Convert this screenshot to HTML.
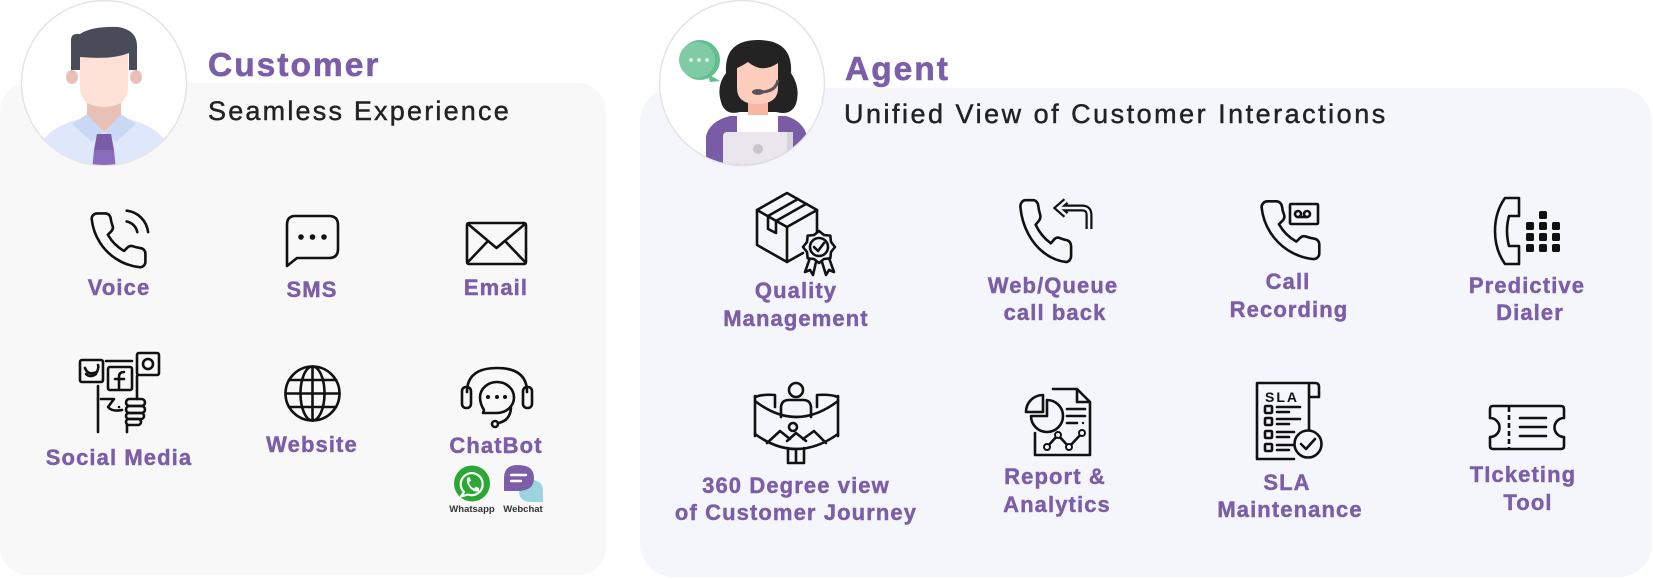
<!DOCTYPE html>
<html><head><meta charset="utf-8"><style>
html,body{margin:0;padding:0;background:#fff;}
svg{display:block;}
text{font-family:"Liberation Sans",Arial,sans-serif;}
.lb{font-size:22px;font-weight:bold;fill:#7b5ea7;stroke:#7b5ea7;stroke-width:0.45px;letter-spacing:1.1px;text-anchor:middle;}
.ic{fill:none;stroke:#111;stroke-width:2.6;stroke-linecap:round;stroke-linejoin:round;}
</style></head><body>
<svg width="1653" height="579" viewBox="0 0 1653 579" xmlns="http://www.w3.org/2000/svg">
<defs>
<clipPath id="cc"><circle cx="104" cy="83" r="82"/></clipPath>
<clipPath id="ca"><circle cx="742" cy="83" r="82"/></clipPath>
</defs>
<!-- panels -->
<rect x="0" y="83" width="606" height="492" rx="28" fill="#f8f8f8"/>
<rect x="640" y="88" width="1012" height="489" rx="33" fill="#f5f6fb"/>

<!-- customer avatar -->
<circle cx="104" cy="83" r="82.5" fill="#fff" stroke="#e4e4e4" stroke-width="1.5"/>
<g clip-path="url(#cc)">
<path d="M40 145 Q52 124 85 118 L104 132 L123 118 Q156 124 168 145 V175 H40 Z" fill="#dfe7fb"/>
<path d="M87 92 H121 V116 L104 132 L87 116 Z" fill="#e8c1b6"/>
<path d="M72 124 L87 114 L104 132 L92 142 Z" fill="#cad7f5"/>
<path d="M136 124 L121 114 L104 132 L116 142 Z" fill="#cad7f5"/>
<path d="M97 134 H111 L114 150 H94 Z" fill="#7a5ca6"/>
<path d="M94 150 H114 L116 170 H92 Z" fill="#8a6cbd"/>
</g>
<ellipse cx="72" cy="77" rx="6" ry="7" fill="#e8c1b6"/>
<ellipse cx="136" cy="77" rx="6" ry="7" fill="#e8c1b6"/>
<path d="M80 56 V86 Q80 107 104 107 Q128 107 128 86 V54 Z" fill="#fde0d6"/>
<path d="M71 70 V40 Q71 33 80 34 Q92 26 118 27 Q137 30 137 46 V70 H129 V53 Q112 60 80 57 V70 Z" fill="#4a4b59"/>

<!-- agent avatar -->
<circle cx="742" cy="83" r="82.5" fill="#fff" stroke="#e4e4e4" stroke-width="1.5"/>
<g clip-path="url(#ca)">
<path d="M706 170 V136 Q710 121 730 116 H786 Q803 121 807 136 V170 Z" fill="#7a5ca6"/>
<path d="M737 116 H778 V134 H737 Z" fill="#fff"/>
<rect x="723" y="132" width="70" height="40" rx="4" fill="#e9e7ed"/>
<rect x="787" y="132" width="6" height="40" fill="#d6d2dc"/>
<circle cx="758" cy="149" r="5" fill="#c9c3cd"/>
</g>
<path d="M721 102 Q716 86 726 73 Q724 40 758 40 Q793 40 791 73 Q801 88 796 104 Q791 116 776 112 H740 Q725 116 721 102 Z" fill="#232323"/>
<path d="M748 98 H768 V115 H748 Z" fill="#f7b7a3"/>
<path d="M737 68 V88 Q737 104 757 104 Q778 104 778 88 V63 Q762 74 748 62 Q742 66 737 68 Z" fill="#fdcdbd"/>
<path d="M778 80 Q776 92 760 92" fill="none" stroke="#59535e" stroke-width="3"/>
<ellipse cx="758" cy="92" rx="6" ry="3" fill="#59535e"/>
<circle cx="700" cy="60" r="20" fill="#5fbf8f"/>
<circle cx="697" cy="60" r="18" fill="#7ecba6"/>
<path d="M708 74 L720 81 L710 82 Z" fill="#5fbf8f"/>
<circle cx="691" cy="60" r="1.8" fill="#fff"/><circle cx="699" cy="60" r="1.8" fill="#fff"/><circle cx="707" cy="60" r="1.8" fill="#fff"/>

<!-- titles -->
<text x="208" y="76" font-size="33.5" font-weight="bold" fill="#7b5ea7" stroke="#7b5ea7" stroke-width="0.6" letter-spacing="2">Customer</text>
<text x="208" y="120" font-size="27" fill="#222" stroke="#222" stroke-width="0.45" letter-spacing="2.2">Seamless Experience</text>
<text x="845" y="80" font-size="33.5" font-weight="bold" fill="#7b5ea7" stroke="#7b5ea7" stroke-width="0.6" letter-spacing="2">Agent</text>
<text x="844" y="123" font-size="27" fill="#222" stroke="#222" stroke-width="0.45" letter-spacing="2.5">Unified View of Customer Interactions</text>

<!-- Voice -->
<g transform="translate(86,208) scale(2.7)">
<path class="ic" vector-effect="non-scaling-stroke" d="M15.05 5A5 5 0 0 1 19 8.95M15.05 1A9 9 0 0 1 23 8.94M22 16.92v3a2 2 0 0 1-2.18 2 19.79 19.79 0 0 1-8.63-3.07 19.5 19.5 0 0 1-6-6 19.79 19.79 0 0 1-3.07-8.67A2 2 0 0 1 4.11 2h3a2 2 0 0 1 2 1.72 12.84 12.84 0 0 0 .7 2.81 2 2 0 0 1-.45 2.11L8.09 9.910a16 16 0 0 0 6 6l1.27-1.27a2 2 0 0 1 2.11-.45 12.84 12.84 0 0 0 2.81.7A2 2 0 0 1 22 16.92z"/>
</g>
<text class="lb" x="119" y="295">Voice</text>

<!-- SMS -->
<path class="ic" stroke-width="3" d="M295 216 H329 Q338 216 338 225 V249 Q338 258 329 258 H297 L287 266 V225 Q287 216 295 216 Z"/>
<circle cx="301" cy="237" r="2.8" fill="#111"/><circle cx="312.5" cy="237" r="2.8" fill="#111"/><circle cx="324" cy="237" r="2.8" fill="#111"/>
<text class="lb" x="312" y="297">SMS</text>

<!-- Email -->
<rect x="467" y="223" width="59" height="41" rx="2" class="ic" stroke-width="3"/>
<path class="ic" stroke-width="2.6" d="M468 224 L496.5 248 L525 224 M468 262 L487 242 M525 262 L506 242"/>
<text class="lb" x="496" y="295">Email</text>

<!-- Social Media -->
<g class="ic" stroke-width="2.2">
<rect x="80" y="360" width="23" height="22" rx="2"/>
<rect x="108" y="367" width="24" height="23" rx="2"/>
<rect x="137" y="353" width="22" height="22" rx="2"/>
<circle cx="148" cy="364" r="5"/>
<path d="M106 361 H132"/>
<path d="M85 368 Q88 376 97 372 Q99 367 98 365 M86 374 Q90 378 96 374"/>
<path d="M124 372 Q119 372 119 377 V388 M115 379 H124"/>
<path d="M98 386 V432 M137 376 V399"/>
<path d="M101 399 H114 L108 407 Q112 412 122 410"/>
<rect x="126" y="399" width="19" height="7" rx="3.5"/>
<rect x="126" y="406" width="19" height="7" rx="3.5"/>
<rect x="126" y="413" width="18" height="6" rx="3"/>
<rect x="126" y="419" width="15" height="6" rx="3"/>
<path d="M127 425 V432"/>
</g>
<circle cx="119" cy="407" r="1.3" fill="#111"/>
<text class="lb" x="119" y="465">Social Media</text>

<!-- Website -->
<g class="ic" stroke-width="3">
<circle cx="312.5" cy="393.5" r="27"/>
<ellipse cx="312.5" cy="393.5" rx="12" ry="27"/>
<path d="M312.5 366.5 V420.5 M285.5 393.5 H339.5 M289 380 H336 M289 407 H336"/>
</g>
<text class="lb" x="312" y="452">Website</text>

<!-- ChatBot -->
<g class="ic" stroke-width="3.2">
<path d="M467 392 Q467 368 497 368 Q527 368 527 392"/>
<rect x="462" y="387" width="9" height="21" rx="4"/>
<rect x="523" y="387" width="9" height="21" rx="4"/>
<path d="M484 410 Q480 404 480 397 A17 15.5 0 1 1 497 413 H483 Z"/>
<path d="M511 408 Q510 421 498 423"/>
<circle cx="495" cy="424" r="3"/>
</g>
<circle cx="488" cy="397" r="2" fill="#111"/><circle cx="497" cy="397" r="2" fill="#111"/><circle cx="505" cy="397" r="2" fill="#111"/>
<text class="lb" x="496" y="453">ChatBot</text>
<!-- whatsapp -->
<circle cx="472" cy="483.5" r="18" fill="#29a833"/>
<path d="M464 492 A11 11 0 1 1 468 494.5 L461 496.5 Z" fill="none" stroke="#fff" stroke-width="2.2" stroke-linejoin="round"/>
<path d="M467 478 Q466 484 471 489 Q476 493 479 491 L479 488 L476 486.5 L474 488.5 Q470 486.5 469 482.5 L471 480.5 L469.5 477 Z" fill="#fff"/>
<text x="472" y="512" font-size="9.5" font-weight="bold" fill="#333" text-anchor="middle">Whatsapp</text>
<!-- webchat -->
<path d="M519 480 H531 Q543 480 543 491 V502 H532 Q519 502 519 491 Z" fill="#9bd3df"/>
<path d="M518 465 Q534 465 534 478 Q534 491 518 491 H504 V478 Q504 465 518 465 Z" fill="#7b5ea7"/>
<path d="M511 475 H526 M511 481 H521" stroke="#fff" stroke-width="2.4" stroke-linecap="round"/>
<text x="523" y="512" font-size="9.5" font-weight="bold" fill="#333" text-anchor="middle">Webchat</text>

<!-- Quality Management -->
<g class="ic" stroke-width="2.4">
<path d="M787 193 L817 210 L787 227 L757 210 Z"/>
<path d="M757 210 V245 L787 262 V227 M817 210 V232 M787 262 L803 253"/>
<path d="M798 199 L768 216 V229 L776 233 V221 L806 204"/>
<path d="M810 258 L805 272 L810 270 L813 275 L816 262 M822 262 L826 275 L829 270 L834 272 L829 258"/>
<path fill="#f5f6fb" d="M835 247 L831 252 L830.3 258.3 L824 259 L819 263 L814 259 L807.7 258.3 L807 252 L803 247 L807 242 L807.7 235.7 L814 235 L819 231 L824 235 L830.3 235.7 L831 242 Z"/>
<circle cx="819" cy="247" r="9"/>
<path d="M814 247 L818 251 L824 243"/>
</g>
<text class="lb" x="796" y="298">Quality</text>
<text class="lb" x="796" y="326">Management</text>

<!-- Web/Queue call back -->
<g transform="translate(1015,194) scale(2.55,3.1)">
<path class="ic" vector-effect="non-scaling-stroke" stroke-width="2.4" d="M22 16.92v3a2 2 0 0 1-2.18 2 19.79 19.79 0 0 1-8.63-3.07 19.5 19.5 0 0 1-6-6 19.79 19.79 0 0 1-3.07-8.67A2 2 0 0 1 4.11 2h3a2 2 0 0 1 2 1.72 12.84 12.84 0 0 0 .7 2.81 2 2 0 0 1-.45 2.11L8.09 9.91a16 16 0 0 0 6 6l1.27-1.27a2 2 0 0 1 2.11-.45 12.84 12.84 0 0 0 2.81.7A2 2 0 0 1 22 16.92z"/>
</g>
<path d="M1089 229 V215 Q1089 208 1082 208 H1059 M1066 201 L1058 208 L1066 215" fill="none" stroke="#111" stroke-width="7" stroke-linejoin="miter"/>
<path d="M1089 229 V215 Q1089 208 1082 208 H1059 M1066 201 L1058 208 L1066 215" fill="none" stroke="#f5f6fb" stroke-width="2.6" stroke-linejoin="miter"/>
<text class="lb" x="1053" y="293">Web/Queue</text>
<text class="lb" x="1055" y="320">call back</text>

<!-- Call Recording -->
<g transform="translate(1255.5,195.5) scale(2.9)">
<path class="ic" vector-effect="non-scaling-stroke" stroke-width="2.3" d="M22 16.92v3a2 2 0 0 1-2.18 2 19.79 19.79 0 0 1-8.63-3.07 19.5 19.5 0 0 1-6-6 19.79 19.79 0 0 1-3.07-8.67A2 2 0 0 1 4.11 2h3a2 2 0 0 1 2 1.72 12.84 12.84 0 0 0 .7 2.81 2 2 0 0 1-.45 2.11L8.09 9.91a16 16 0 0 0 6 6l1.27-1.27a2 2 0 0 1 2.11-.45 12.84 12.84 0 0 0 2.81.7A2 2 0 0 1 22 16.92z"/>
</g>
<g class="ic" stroke-width="2.2">
<rect x="1290" y="204" width="28" height="20" rx="1"/>
<circle cx="1298" cy="214" r="3"/><circle cx="1307" cy="214" r="3"/>
<path d="M1298 217 H1307"/>
</g>
<text class="lb" x="1288" y="289">Call</text>
<text class="lb" x="1289" y="317">Recording</text>

<!-- Predictive Dialer -->
<path class="ic" stroke-width="2.4" d="M1505 198 H1519 V216 H1509 Q1505 231 1509 246 H1519 V264 H1505 Q1495 250 1495 231 Q1495 212 1505 198 Z"/>
<g fill="#111">
<rect x="1539" y="211" width="8" height="8" rx="1.8"/>
<rect x="1526" y="222" width="8" height="8" rx="1.8"/><rect x="1539" y="222" width="8" height="8" rx="1.8"/><rect x="1552" y="222" width="8" height="8" rx="1.8"/>
<rect x="1526" y="233" width="8" height="8" rx="1.8"/><rect x="1539" y="233" width="8" height="8" rx="1.8"/><rect x="1552" y="233" width="8" height="8" rx="1.8"/>
<rect x="1526" y="244" width="8" height="8" rx="1.8"/><rect x="1539" y="244" width="8" height="8" rx="1.8"/><rect x="1552" y="244" width="8" height="8" rx="1.8"/>
</g>
<text class="lb" x="1527" y="293">Predictive</text>
<text class="lb" x="1530" y="320">Dialer</text>

<!-- 360 -->
<g class="ic" stroke-width="2.4">
<circle cx="796" cy="390" r="7"/>
<path d="M781 417 V408 Q781 400 789 400 H803 Q811 400 811 408 V417"/>
<path d="M755 396 V436 M838 396 V436"/>
<path d="M755 401 Q796 433 838 401"/>
<path d="M755 434 Q796 464 838 434"/>
<path d="M775 407 V395 Q763 394 755 397 M817 407 V395 Q830 394 838 397"/>
<path d="M767 443 L780 431 L790 439 M803 439 L814 431 L826 443 M787 441 L796 433 L806 441"/>
<circle cx="793" cy="427" r="4"/>
<path d="M788 448 V463 H796 V451 M796 463 H804 V448"/>
</g>
<text class="lb" x="796" y="493">360 Degree view</text>
<text class="lb" x="796" y="520">of Customer Journey</text>

<!-- Report & Analytics -->
<g class="ic" stroke-width="2.3">
<path d="M1035 433 V455 H1090 V402 L1077 389 H1053 M1077 389 V402 H1090"/>
<path d="M1047 400 A16 16 0 1 1 1031 416 H1047 Z"/>
<path d="M1043 412 H1026 A17 17 0 0 1 1043 395 Z"/>
<path d="M1067 409 H1085 M1067 416 H1085 M1067 423 H1077"/>
<path d="M1047 447 L1058 435 L1069 447 L1082 433"/>
</g>
<g fill="#f5f6fb" stroke="#111" stroke-width="2"><circle cx="1047" cy="447" r="3"/><circle cx="1058" cy="435" r="3"/><circle cx="1069" cy="447" r="3"/><circle cx="1082" cy="433" r="3"/></g>
<circle cx="1083" cy="423" r="1.2" fill="#111"/>
<text class="lb" x="1055" y="484">Report &amp;</text>
<text class="lb" x="1057" y="512">Analytics</text>

<!-- SLA Maintenance -->
<g class="ic" stroke-width="2.3">
<path d="M1294 459 H1257 V383 H1315 Q1319 383 1319 387 V397 H1309 V431 M1309 397 V385"/>
<rect x="1265" y="406" width="7" height="7" rx="1"/>
<rect x="1265" y="418" width="7" height="7" rx="1"/>
<rect x="1265" y="431" width="7" height="7" rx="1"/>
<rect x="1265" y="444" width="7" height="7" rx="1"/>
<path d="M1277 407 H1300 M1277 412 H1289 M1277 419 H1300 M1277 424 H1289 M1277 432 H1294 M1277 437 H1289 M1277 445 H1293 M1277 450 H1289"/>
<circle cx="1308" cy="444" r="13.5" fill="#f5f6fb"/>
<path d="M1301 444 L1306 449 L1315 439"/>
</g>
<text x="1282" y="402" font-size="14" font-weight="bold" fill="#111" text-anchor="middle" letter-spacing="2">SLA</text>
<text class="lb" x="1287" y="490">SLA</text>
<text class="lb" x="1290" y="517">Maintenance</text>

<!-- Ticketing Tool -->
<g class="ic" stroke-width="2.6">
<path d="M1493 406 H1561 Q1564 406 1564 409 V418 A9.5 9.5 0 0 0 1564 437 V446 Q1564 449 1561 449 H1493 Q1490 449 1490 446 V437 A9.5 9.5 0 0 0 1490 418 V409 Q1490 406 1493 406 Z"/>
<path d="M1509 407 V448" stroke-dasharray="5 3" stroke-linecap="butt"/>
<path d="M1520 418 H1546 M1520 427 H1546 M1520 436 H1546"/>
</g>
<text class="lb" x="1523" y="482">TIcketing</text>
<text class="lb" x="1528" y="510">Tool</text>
</svg>
</body></html>
